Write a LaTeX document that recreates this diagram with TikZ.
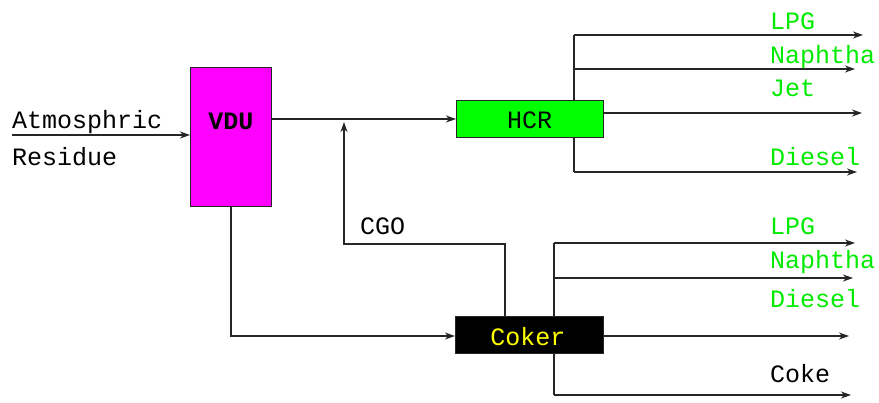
\documentclass[tikz,border=0pt]{standalone}
\usepackage{fontspec}
\setmainfont{Liberation Mono}
\usetikzlibrary{arrows.meta}
\definecolor{lblgreen}{RGB}{0,235,0}
\definecolor{boxgreen}{RGB}{0,255,0}
\definecolor{boxmagenta}{RGB}{255,0,255}
\definecolor{cokeryellow}{RGB}{255,255,0}
\begin{document}
\begin{tikzpicture}[x=1pt,y=-1pt,
  line/.style={line width=1.4pt,draw=black!85},
  arr/.style={line,-{Stealth[length=10pt,width=7pt,inset=3pt]}},
  unit/.style={draw=black!85,line width=1.4pt,inner sep=0pt,anchor=north west},
  txt/.style={font=\fontsize{25}{25}\selectfont,anchor=base west,inner sep=0pt},
  gtxt/.style={txt,text=lblgreen}]
\useasboundingbox (0,0) rectangle (879,402);
% units
\node[unit,fill=boxmagenta,minimum width=81pt,minimum height=139pt] (vdu) at (190,67) {};
\node[unit,fill=boxgreen,minimum width=147pt,minimum height=37pt] (hcr) at (456,100) {};
\node[unit,fill=black,minimum width=148pt,minimum height=37pt] (coker) at (455,316) {};
\node[txt,anchor=base,font=\fontsize{25}{25}\selectfont\bfseries] (vdut) at (231,129) {VDU};
\node[txt,anchor=base] (hcrt) at (529.5,128) {HCR};
\node[txt,anchor=base,text=cokeryellow] (cokert) at (528,345) {Coker};
% coordinates
\coordinate (ain) at (12,135);
\coordinate (vo) at (271,119);
\coordinate (cgoa) at (505,244);
\coordinate (cgob) at (344,244);
\coordinate (cgotip) at (344,122);
\coordinate (vb) at (231,336);
\coordinate (ht) at (574,35);
\coordinate (hn) at (574,69);
\coordinate (hb) at (574,172);
\coordinate (hlpg) at (863,35);
\coordinate (hnap) at (855,69);
\coordinate (hjet) at (862,113);
\coordinate (hdie) at (857,172);
\coordinate (ct) at (554,243);
\coordinate (cn) at (554,278);
\coordinate (cb) at (554,395);
\coordinate (clpg) at (855,243);
\coordinate (cnap) at (853,278);
\coordinate (cdie) at (849,336);
\coordinate (ccoke) at (851,395);
% connectors
\draw[arr] (ain) -- (ain -| vdu.west);
\draw[arr] (vo) -- (vo -| hcr.west);
\draw[arr] (cgoa |- coker.north) -- (cgoa) -- (cgob) -- (cgotip);
\draw[arr] (vdu.south -| vb) -- (vb) -- (vb -| coker.west);
\draw[line] (ht) -- (ht |- hcr.north);
\draw[line] (hcr.south -| hb) -- (hb);
\draw[arr] (ht) -- (hlpg);
\draw[arr] (hn) -- (hnap);
\draw[arr] (hjet -| hcr.east) -- (hjet);
\draw[arr] (hb) -- (hdie);
\draw[line] (ct) -- (ct |- coker.north);
\draw[line] (coker.south -| cb) -- (cb);
\draw[arr] (ct) -- (clpg);
\draw[arr] (cn) -- (cnap);
\draw[arr] (cdie -| coker.east) -- (cdie);
\draw[arr] (cb) -- (ccoke);
% labels
\node[txt] (atm) at (12,128) {Atmosphric};
\node[txt] (res) at (12,165) {Residue};
\node[txt] (cgo) at (360,234) {CGO};
\node[gtxt] (l1) at (770,29) {LPG};
\node[gtxt] (l2) at (770,63) {Naphtha};
\node[gtxt] (l3) at (770,96) {Jet};
\node[gtxt] (l4) at (770,165) {Diesel};
\node[gtxt] (l5) at (770,234) {LPG};
\node[gtxt] (l6) at (770,268) {Naphtha};
\node[gtxt] (l7) at (770,307) {Diesel};
\node[txt] (l8) at (770,382) {Coke};
\end{tikzpicture}
\end{document}
